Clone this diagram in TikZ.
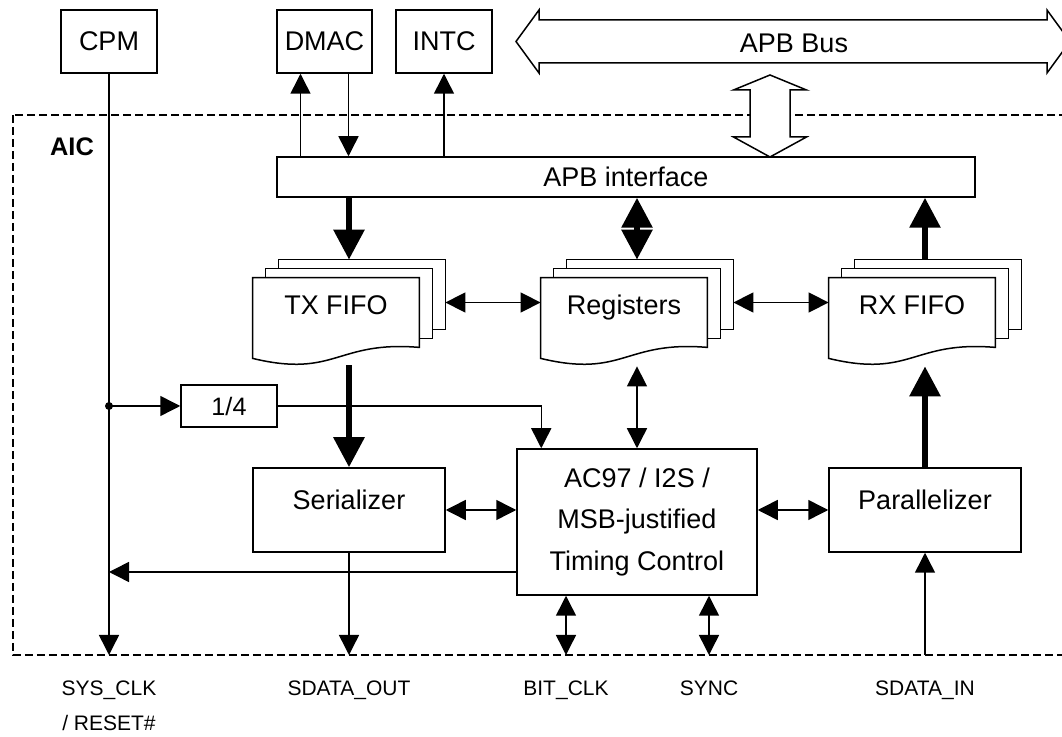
\documentclass[tikz,border=0pt]{standalone}
\usepackage{fontspec}
\setmainfont{Liberation Sans}
\usetikzlibrary{arrows.meta, backgrounds}

% three stacked sheets behind a named fifo node
\newcommand{\fifostack}[1]{%
  \begin{pgfonlayer}{background}
    \draw[sheet] ([shift={(26,-18)}]#1.north west) rectangle ([shift={(26,-18)}]#1.south east);
    \draw[sheet] ([shift={(13,-9)}]#1.north west) rectangle ([shift={(13,-9)}]#1.south east);
    \draw[sheet] (#1.north west) -- (#1.north east) -- (#1.south east)
      .. controls ([shift={(-83,-7)}]#1.south east) and ([shift={(83,31)}]#1.south west)
      .. ([shift={(0,11)}]#1.south west) -- cycle;
  \end{pgfonlayer}}

\begin{document}
\begin{tikzpicture}[
  x=0.5pt, y=-0.5pt,
  boxfont/.style={font=\fontsize{13.5}{16}\selectfont},
  blk/.style={rectangle, draw, line width=0.75pt, fill=white, inner sep=0pt, boxfont},
  fifo/.style={rectangle, inner sep=0pt, minimum width=83pt, minimum height=34.5pt,
               text height=9.7pt, text depth=7.5pt, boxfont},
  sheet/.style={draw, line width=0.75pt, fill=white},
  bus/.style={draw, line width=0.75pt, fill=white},
  aicbox/.style={draw, line width=0.75pt, dash pattern=on 3.8pt off 2.2pt},
  pin/.style={font=\fontsize{10.5}{17.5}\selectfont, align=center, anchor=north, inner sep=0pt},
  arr/.style={-{Triangle[length=10pt,width=10pt]}, line width=0.75pt},
  both/.style={{Triangle[length=10pt,width=10pt]}-{Triangle[length=10pt,width=10pt]}, line width=0.75pt},
  fat/.style={-{Triangle[length=15pt,width=15pt]}, line width=3pt},
  fatboth/.style={{Triangle[length=15pt,width=15pt]}-{Triangle[length=15pt,width=15pt]}, line width=3pt}
]
\useasboundingbox (0,0) rectangle (1062,737);

% AIC border
\draw[aicbox] (13,115) rectangle (1080,655);
\node[font=\fontsize{12.7}{15}\selectfont\bfseries] (aic) at (72,147) {AIC};

% outside blocks
\node[blk, minimum width=48pt, minimum height=31.5pt] (cpm)  at (109,41.5)   {CPM};
\node[blk, minimum width=47.5pt, minimum height=31.5pt] (dmac) at (324.5,41.5) {DMAC};
\node[blk, minimum width=48pt, minimum height=31.5pt] (intc) at (444,41.5)   {INTC};

% APB bus
\draw[bus] (516,41.5) -- (539,10) -- (539,20) -- (1047,20) -- (1047,10) -- (1070,41.5)
  -- (1047,73) -- (1047,63) -- (539,63) -- (539,73) -- cycle;
\node[boxfont] (apbbus) at (794,43) {APB Bus};
\draw[bus] (770,75) -- (806.5,90) -- (790,90) -- (790,137) -- (806.5,137) -- (770,157)
  -- (733.5,137) -- (750,137) -- (750,90) -- (733.5,90) -- cycle;

% inside blocks
\node[blk, minimum width=349pt, minimum height=20pt] (apbif) at (626,177) {APB interface};

\node[fifo] (txf) at (336,312.5) {TX FIFO};
\node[fifo] (reg) at (624,312.5) {Registers};
\node[fifo] (rxf) at (912,312.5) {RX FIFO};
\fifostack{txf}
\fifostack{reg}
\fifostack{rxf}

\node[blk, minimum width=48pt, minimum height=21pt, font=\fontsize{12.6}{15}\selectfont] (div) at (229,406) {1/4};
\node[blk, minimum width=96pt, minimum height=42pt, text height=9.7pt, text depth=10pt] (ser) at (349,510) {Serializer};
\node[blk, minimum width=96pt, minimum height=42pt, text height=9.7pt, text depth=10pt] (par) at (925,510) {Parallelizer};
\node[blk, minimum width=120pt, minimum height=73pt, align=center,
      font=\fontsize{13.5}{20.75}\selectfont] (timing) at (637,522)
  {AC97 / I2S /\\MSB-justified\\Timing Control};

% pins on the AIC border
\coordinate (sysclk)   at (109,655);
\coordinate (sdataout) at (349,655);
\coordinate (bitclk)   at (566,655);
\coordinate (sync)     at (709,655);
\coordinate (sdatain)  at (925,655);

% DMAC / INTC
\draw[arr] ([xshift=-12pt]dmac.south |- apbif.north) -- ([xshift=-12pt]dmac.south);
\draw[arr] ([xshift=12pt]dmac.south) -- ([xshift=12pt]dmac.south |- apbif.north);
\draw[arr] (intc.south |- apbif.north) -- (intc.south);

% data paths
\draw[fat] (apbif.south -| ser) -- ([shift={(13,-18)}]txf.north);
\draw[fatboth] (apbif.south -| timing) -- ([shift={(13,-18)}]reg.north);
\draw[fat] ([shift={(13,-18)}]rxf.north) -- (apbif.south -| par);
\draw[both] ([shift={(26,-10)}]txf.east) -- ([shift={(0,-10)}]reg.west);
\draw[both] ([shift={(26,-10)}]reg.east) -- ([shift={(0,-10)}]rxf.west);
\draw[fat] ([shift={(13,18)}]txf.south) -- (ser.north);
\draw[both] ([shift={(13,19)}]reg.south) -- (timing.north);
\draw[fat] (par.north) -- ([shift={(13,19)}]rxf.south);

% clock and reset
\draw[arr] (cpm.south) -- (sysclk);
\fill (cpm.south |- div.west) circle (2pt);
\draw[arr] (cpm.south |- div.west) -- (div.west);
\draw[arr] (div.east) -| ([xshift=12.5pt]timing.north west);
\draw[arr] ([yshift=-25pt]timing.west) -- ([yshift=-25pt]timing.west -| cpm.south);

% serial side
\draw[both] (ser.east) -- (ser.east -| timing.west);
\draw[both] (par.west -| timing.east) -- (par.west);
\draw[arr] (ser.south) -- (sdataout);
\draw[both] (timing.south -| bitclk) -- (bitclk);
\draw[both] (timing.south -| sync) -- (sync);
\draw[arr] (sdatain) -- (par.south);

% pin labels
\node[pin] (sysclklbl)   at (109,680) {SYS\_CLK\\/ RESET\#};
\node[pin] (sdataoutlbl) at (349,680) {SDATA\_OUT};
\node[pin] (bitclklbl)   at (566,680) {BIT\_CLK};
\node[pin] (synclbl)     at (709,680) {SYNC};
\node[pin] (sdatainlbl)  at (925,680) {SDATA\_IN};
\end{tikzpicture}
\end{document}
